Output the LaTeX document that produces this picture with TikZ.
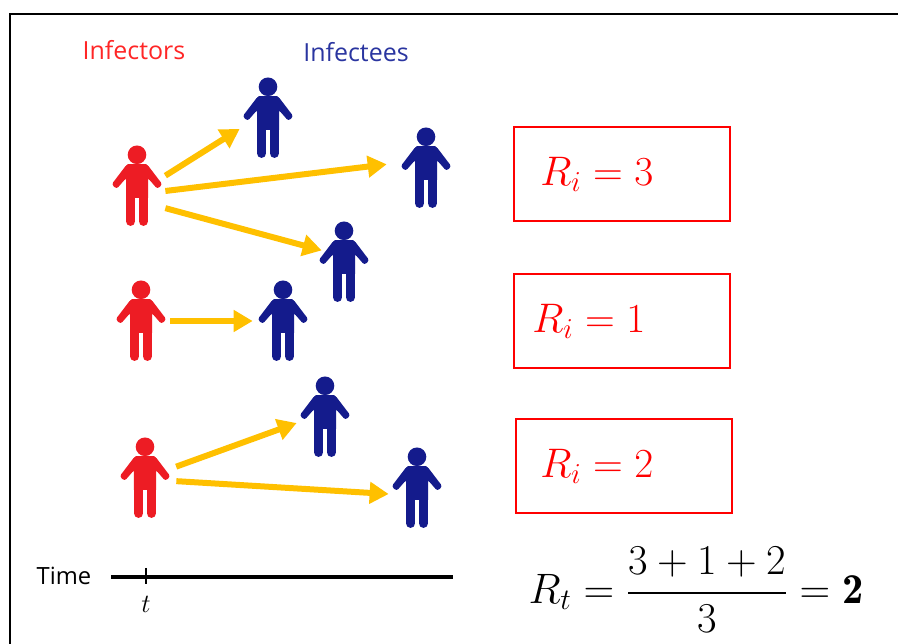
\documentclass[tikz,border=0pt]{standalone}
\usepackage{fix-cm}
\usepackage{amsmath}
\usepackage{fontspec}
\newfontfamily\labelfont{Open Sans}
\usetikzlibrary{arrows.meta,positioning}
\definecolor{infRed}{HTML}{ED1C24}
\definecolor{infBlue}{HTML}{141B8C}
\definecolor{arrowGold}{HTML}{FFC000}
\definecolor{headBlue}{HTML}{2A35A0}
\begin{document}
\begin{tikzpicture}[
    person/.style={minimum width=1.12cm, minimum height=1.64cm, inner sep=0pt, path picture={
        \begin{scope}[shift={(path picture bounding box.center)}, x=0.02cm, y=0.02cm]
        \fill[#1] (0,31.2) circle (9.3);
        \fill[#1] (-9,21.8) -- (9,21.8) -- (11,20) -- (11,-12) -- (-11,-12) -- (-11,20) -- cycle;
        \foreach \s in {-1,1} {
            \fill[#1, rounded corners=1.5pt] (\s*6,21.8) -- (\s*10,21.8) -- (\s*25.4,1.6) -- (\s*20.4,-3) -- (\s*11,7.8) -- (\s*6,7.8) -- cycle;
            \draw[#1, line width=0.186cm, line cap=round] (\s*6.4,-12) -- (\s*6.4,-35.3);
        }
        \end{scope}}},
    spread/.style={-{Triangle[length=0.38cm, width=0.42cm]}, arrowGold, line width=0.12cm},
    ratebox/.style={rectangle, draw=red, line width=0.04cm, minimum width=4.32cm, minimum height=1.88cm},
    ratetext/.style={text=red, font=\fontsize{23.5}{28}\selectfont, inner sep=0pt},
    heading/.style={font=\labelfont\fontsize{14.2}{17}\selectfont}
]
\useasboundingbox (0,0) rectangle (17.96,12.88);

% Frame
\coordinate (frameBottom) at (0.2,0);
\coordinate (frameCorner) at (0.2,12.6);
\coordinate (frameRight) at (17.96,12.6);
\draw[line width=0.05cm] (frameBottom) -- (frameCorner) -- (frameRight);

% Headings
\node[heading, text=red!85!white] (infectors) at (2.68,11.88) {Infectors};
\node[heading, text=headBlue] (infectees) at (7.12,11.84) {Infectees};

% People
\foreach \name/\x/\y in {inf1/2.74/9.16, inf2/2.82/6.46, inf3/2.90/3.32} {
    \node[person=infRed] (\name) at (\x,\y) {};
}
\foreach \name/\x/\y in {ee1/5.36/10.52, ee2/8.52/9.52, ee3/6.88/7.64, ee4/5.66/6.46, ee5/6.50/4.54, ee6/8.34/3.12} {
    \node[person=infBlue] (\name) at (\x,\y) {};
}

% Arrows
\draw[spread] (inf1.20) -- (ee1.201);
\draw[spread, shorten >=0.22cm] (inf1.-10) -- (ee2.170);
\draw[spread, shorten >=-0.125cm] (inf1.-38) -- (ee3.155);
\draw[spread, shorten >=0.04cm, shorten <=0.02cm] (inf2.east) -- (ee4.west);
\draw[spread, shorten <=0.06cm] (inf3.20) -- (ee5.192);
\draw[spread, shorten <=0.06cm] (inf3.-6) -- (ee6.192);

% Boxes
\node[ratebox] (box1) at (12.44,9.40) {};
\node[ratebox] (box2) at (12.44,6.45) {};
\node[ratebox] (box3) at (12.48,3.55) {};
\node[ratetext, right=0.54cm of box1.west] (rate1) {$R_i = 3$};
\node[ratetext, right=0.38cm of box2.west] (rate2) {$R_i = 1$};
\node[ratetext, right=0.50cm of box3.west] (rate3) {$R_i = 2$};

% Timeline
\node[font=\labelfont\fontsize{13.5}{16}\selectfont] (time) at (1.28,1.36) {Time};
\coordinate (timeStart) at (2.22,1.34);
\coordinate (timeEnd) at (9.06,1.34);
\coordinate (tickTop) at (2.92,1.52);
\coordinate (tickBottom) at (2.92,1.2);
\draw[line width=0.07cm] (timeStart) -- (timeEnd);
\draw[line width=0.03cm] (tickTop) -- (tickBottom);
\node[font=\fontsize{15}{18}\selectfont] (tlabel) at (2.92,0.8) {$t$};

% Formula
\node[font=\fontsize{24.2}{29}\selectfont] (formula) at (13.92,1.08) {$R_t = \dfrac{3+1+2}{3} = \mathbf{2}$};
\end{tikzpicture}
\end{document}
